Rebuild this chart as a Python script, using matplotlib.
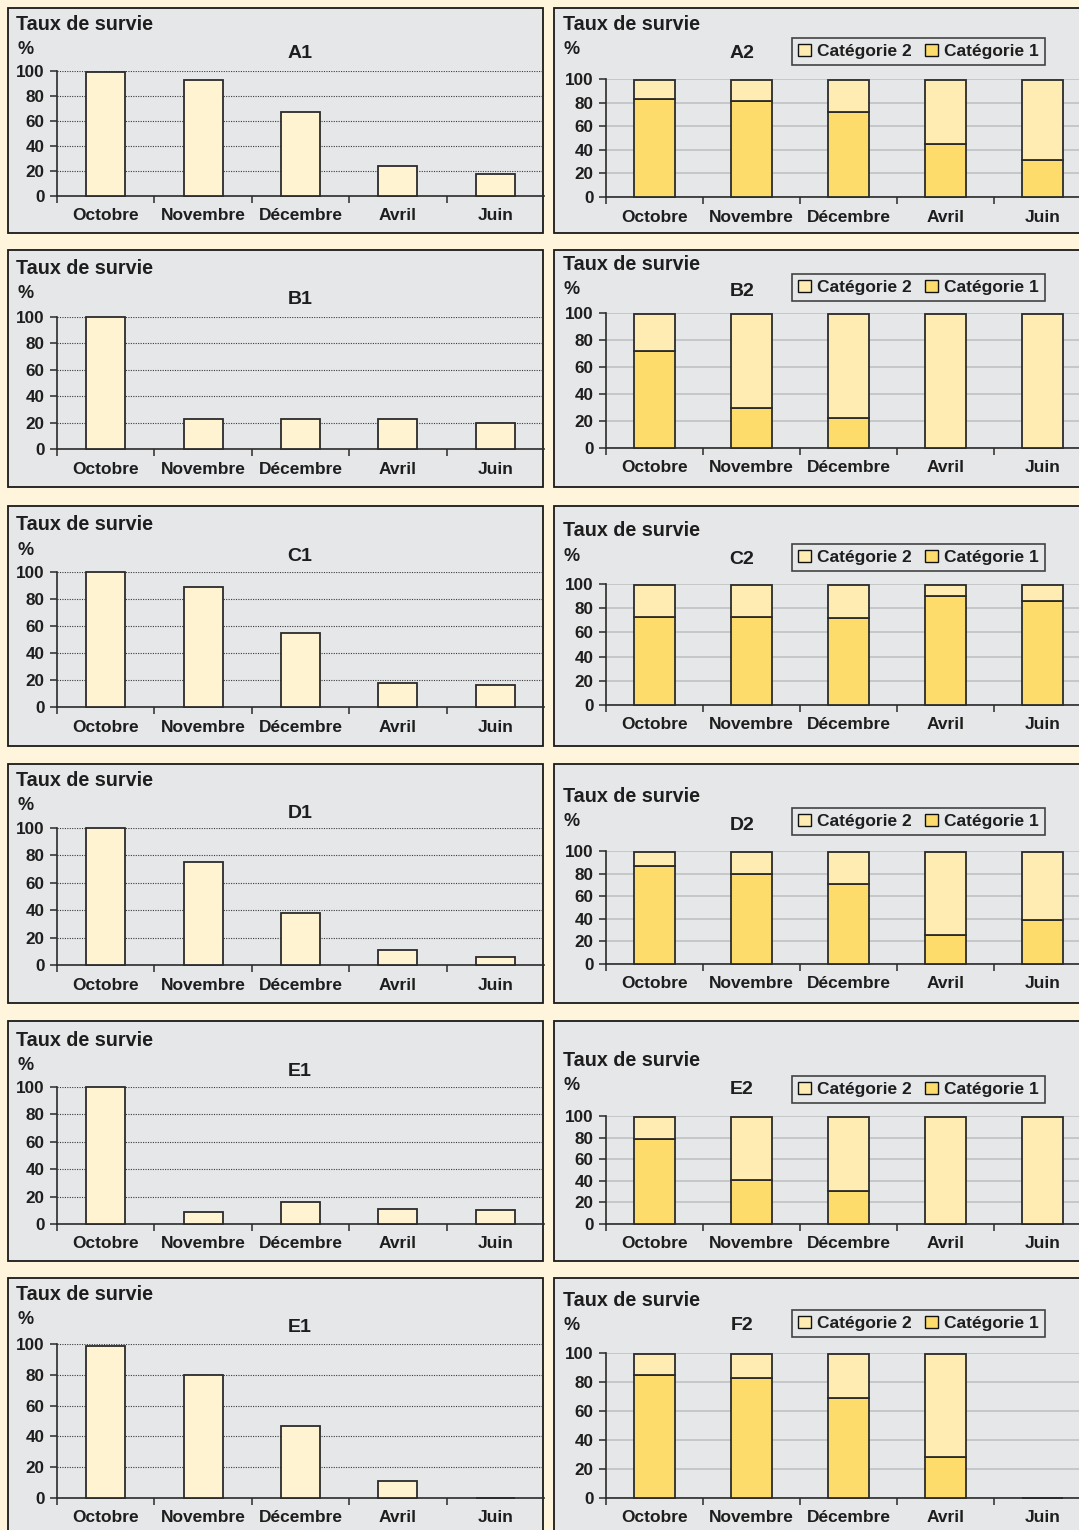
"""Taux de survie : douze panneaux de barres (A1..F2)."""

import matplotlib

matplotlib.use("Agg")
import matplotlib.pyplot as plt
import numpy as np
from matplotlib.patches import Patch, Rectangle

plt.rcParams["font.family"] = ["Liberation Sans", "DejaVu Sans"]
plt.rcParams["font.weight"] = "bold"

# --- data -------------------------------------------------------------
months = ["Octobre", "Novembre", "Décembre", "Avril", "Juin"]
yticks = [0, 20, 40, 60, 80, 100]

left_titles = ["A1", "B1", "C1", "D1", "E1", "E1"]
a1 = [99, 93, 67, 24, 18]
b1 = [100, 23, 23, 23, 20]
c1 = [100, 89, 55, 18, 16]
d1 = [100, 75, 38, 11, 6]
e1 = [100, 9, 16, 11, 10]
f1 = [99, 80, 47, 11, 0]

right_titles = ["A2", "B2", "C2", "D2", "E2", "F2"]
a2_cat1 = [83, 81, 72, 45, 31]
b2_cat1 = [72, 30, 22, 0, 0]
c2_cat1 = [73, 73, 72, 90, 86]
d2_cat1 = [87, 80, 71, 26, 39]
e2_cat1 = [79, 41, 31, 0, 0]
f2_cat1 = [85, 83, 69, 28, 0]
a2_total = [99, 99, 99, 99, 99]
b2_total = [99, 99, 99, 99, 99]
c2_total = [99, 99, 99, 99, 99]
d2_total = [99, 99, 99, 99, 99]
e2_total = [99, 99, 99, 99, 99]
f2_total = [99, 99, 99, 99, 0]

legend_labels = ["Catégorie 2", "Catégorie 1"]

# --- layout (pixels) --------------------------------------------------
W, H = 1079, 1530
# box top, box bottom, y of 100, y of 0, "Taux" y, "%" y, title y
left_rows = [
    (8, 233, 71, 196, 25, 50, 54),
    (250, 487, 317, 449, 268, 293, 299),
    (506, 746, 572, 707, 525, 550, 556),
    (764, 1003, 828, 965, 781, 806, 813),
    (1021, 1261, 1087, 1224, 1040, 1065, 1071),
    (1278, 1545, 1344, 1498, 1295, 1320, 1327),
]
# same plus legend top
right_rows = [
    (8, 233, 79, 197, 25, 50, 54, 38),
    (250, 487, 313, 448, 264, 290, 291, 274),
    (506, 746, 584, 705, 531, 556, 559, 544),
    (764, 1003, 851, 964, 796, 821, 825, 808),
    (1021, 1261, 1116, 1224, 1060, 1085, 1089, 1076),
    (1278, 1545, 1353, 1498, 1300, 1325, 1326, 1310),
]

BG = "#fef5dc"
PANEL = "#e6e7e9"
BAR1 = "#fff3d1"
CAT1 = "#fddc6c"
CAT2 = "#ffecb3"
EDGE = "#2b2b2b"
TXT = "#1e1e1e"


def fx(x):
    return x / W


def fy(y):
    return 1 - y / H


fig = plt.figure(figsize=(W / 100, H / 100), dpi=100, facecolor=BG)


def panel(x0, x1, top, bottom):
    rect = Rectangle((fx(x0), fy(bottom)), fx(x1) - fx(x0), fy(top) - fy(bottom),
                     transform=fig.transFigure, facecolor=PANEL, edgecolor="#1a1a1a",
                     linewidth=1.3, zorder=-10)
    fig.add_artist(rect)


def make_axes(x0, x1, y100, y0, grid_style):
    ax = fig.add_axes([fx(x0), fy(y0), fx(x1) - fx(x0), fy(y100) - fy(y0)])
    ax.patch.set_visible(False)
    ax.set_xlim(-0.5, 4.5)
    ax.set_ylim(0, 100)
    for s in ["top", "right"]:
        ax.spines[s].set_visible(False)
    for s in ["left", "bottom"]:
        ax.spines[s].set_color(EDGE)
        ax.spines[s].set_linewidth(1.2)
    ax.set_yticks(yticks)
    ax.set_yticklabels([str(v) for v in yticks], fontsize=12.3, fontweight="bold", color=TXT)
    ax.tick_params(axis="y", length=5, width=1.1, color=EDGE, pad=4)
    ax.set_xticks(np.arange(len(months)))
    ax.set_xticklabels(months, fontsize=12.5, fontweight="bold", color=TXT)
    ax.set_xticks(np.arange(len(months)) - 0.5, minor=True)
    ax.tick_params(axis="x", which="major", length=0, pad=9)
    ax.tick_params(axis="x", which="minor", length=5, width=1.1, color=EDGE)
    ax.yaxis.grid(True, **grid_style)
    ax.set_axisbelow(True)
    return ax


def header(x, taux_y, pct_y, title_x, title_y, title):
    fig.text(fx(x), fy(taux_y), "Taux de survie", fontsize=14.2, fontweight="bold",
             color=TXT, va="center", ha="left")
    fig.text(fx(x + 1), fy(pct_y), "%", fontsize=13, fontweight="bold",
             color=TXT, va="center", ha="left")
    fig.text(fx(title_x), fy(title_y), title, fontsize=14, fontweight="bold",
             color=TXT, va="center", ha="center")


left_values = [a1, b1, c1, d1, e1, f1]
dotted = dict(color="#3a3a3a", linestyle=(0, (1, 1.2)), linewidth=0.8)
for (top, bottom, y100, y0, ty, py, tiy), vals, title in zip(left_rows, left_values, left_titles):
    panel(8, 543, top, bottom)
    ax = make_axes(57, 544, y100, y0, dotted)
    ax.bar(np.arange(len(months)), vals, width=0.4, color=BAR1, edgecolor=EDGE,
           linewidth=1.3, clip_on=False, zorder=3)
    header(16, ty, py, 300, tiy, title)

right_cat1 = [a2_cat1, b2_cat1, c2_cat1, d2_cat1, e2_cat1, f2_cat1]
right_total = [a2_total, b2_total, c2_total, d2_total, e2_total, f2_total]
solid = dict(color="#c3c4c6", linestyle="-", linewidth=1.3)
for row, c1v, tot, title in zip(right_rows, right_cat1, right_total, right_titles):
    top, bottom, y100, y0, ty, py, tiy, lt = row
    panel(554, 1100, top, bottom)
    ax = make_axes(606, 1091, y100, y0, solid)
    x = np.arange(len(months))
    cat1 = np.array(c1v)
    cat2 = np.array(tot) - cat1
    ax.bar(x, cat1, width=0.43, color=CAT1, edgecolor=EDGE, linewidth=1.3,
           clip_on=False, zorder=3)
    ax.bar(x, cat2, bottom=cat1, width=0.43, color=CAT2, edgecolor=EDGE,
           linewidth=1.3, clip_on=False, zorder=3)
    header(563, ty, py, 742, tiy, title)
    handles = [Patch(facecolor=CAT2, edgecolor="#111111", linewidth=1.0),
               Patch(facecolor=CAT1, edgecolor="#111111", linewidth=1.0)]
    leg = fig.legend(handles, legend_labels, loc="upper left",
                     bbox_to_anchor=(fx(792), fy(lt)), ncol=2, frameon=True,
                     fancybox=False, facecolor=PANEL, edgecolor="#1a1a1a",
                     prop=dict(size=12.5, weight="bold"), handlelength=0.75,
                     handleheight=0.75, handletextpad=0.35, columnspacing=0.8,
                     borderpad=0.32, borderaxespad=0)
    leg.get_frame().set_linewidth(1.2)
    for t in leg.get_texts():
        t.set_color(TXT)

fig.savefig("out.png", dpi=100, facecolor=BG)
